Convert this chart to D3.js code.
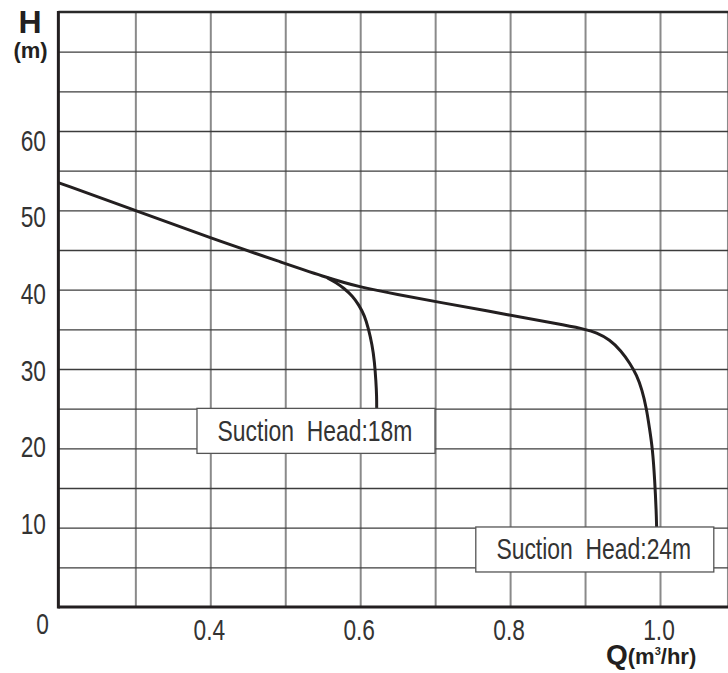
<!DOCTYPE html>
<html>
<head>
<meta charset="utf-8">
<script src="https://cdn.jsdelivr.net/npm/d3@7"></script>
<style>
  html, body { margin: 0; padding: 0; background: #fff; }
  svg { display: block; }
  .narrow { font-family: "Liberation Sans", Arial, sans-serif; }
  .bold { font-family: "Liberation Sans", Arial, sans-serif; font-weight: bold; }
</style>
</head>
<body>
<script>
// ---- data ----
const qGrid = [0.3, 0.4, 0.5, 0.6, 0.7, 0.8, 0.9, 1.0, 1.09];
const hGrid = [5, 10, 15, 20, 25, 30, 35, 40, 45, 50, 55, 60, 65, 70];
const qTickValues = [0.4, 0.6, 0.8, 1.0];
const qTickLabels = ["0.4", "0.6", "0.8", "1.0"];
const hTickValues = [10, 20, 30, 40, 50, 60];
const hTickLabels = ["10", "20", "30", "40", "50", "60"];

// Suction head 24m curve
const q24 = [0.197, 0.3, 0.4, 0.5, 0.556, 0.6, 0.65, 0.7, 0.8, 0.88, 0.9, 0.915, 0.933, 0.948, 0.96, 0.969, 0.976, 0.982, 0.986, 0.99, 0.993, 0.995, 0.9955];
const h24 = [53.5, 50.0, 46.5, 43.3, 41.5, 40.3, 39.4, 38.5, 36.8, 35.4, 35.0, 34.6, 33.7, 32.3, 30.7, 29.2, 27.4, 25.0, 22.5, 20.0, 16.0, 12.0, 10.0];
// Suction head 18m curve (branches off)
const q18 = [0.556, 0.568, 0.578, 0.59, 0.598, 0.606, 0.611, 0.616, 0.619, 0.621, 0.622, 0.622];
const h18 = [41.5, 40.9, 40.2, 39.2, 38.1, 36.7, 35.1, 33.0, 31.0, 28.5, 26.5, 25.0];

const annotLabels = ["Suction  Head:18m", "Suction  Head:24m"];
const annotQ = [0.541, 0.913];
const annotH = [22.2, 7.25];

// ---- drawing ----
const W = 728, Hh = 673;
const svg = d3.select("body").append("svg").attr("width", W).attr("height", Hh);

const x = d3.scaleLinear().domain([0.4, 1.0]).range([210.3, 660]);
const y = d3.scaleLinear().domain([0, 75]).range([607, 12]);
const yLab = d3.scaleLinear().domain([10, 60]).range([523.5, 140]);
const x0 = x(0.1973), xEnd = W;

function narrowText(g, tx, ty, str, anchor, size, sx) {
  return g.append("text").attr("class", "narrow")
    .attr("transform", `translate(${tx},${ty}) scale(${sx},1)`)
    .attr("text-anchor", anchor).attr("font-size", size).attr("fill", "#333")
    .style("white-space", "pre").text(str);
}

// vertical grid
const gx = svg.append("g").attr("transform", `translate(0,${y(0)})`)
  .call(d3.axisBottom(x).tickValues(qGrid).tickSize(-(y(0) - y(75))).tickFormat(""));
gx.select(".domain").remove();
gx.selectAll(".tick line").attr("stroke", "#8a8a8a").attr("stroke-width", 2);

// horizontal grid
const gy = svg.append("g").attr("transform", `translate(${x0},0)`)
  .call(d3.axisLeft(y).tickValues(hGrid).tickSize(-(xEnd - x0)).tickFormat(""));
gy.select(".domain").remove();
gy.selectAll(".tick line").attr("stroke", "#3c3c3c").attr("stroke-width", 1.3);

// curves
const line = d3.line().x(d => x(d[0])).y(d => y(d[1])).curve(d3.curveBasis);
svg.append("path").datum(q24.map((q, i) => [q, h24[i]]))
  .attr("d", line).attr("fill", "none").attr("stroke", "#231f20").attr("stroke-width", 3);
svg.append("path").datum(q18.map((q, i) => [q, h18[i]]))
  .attr("d", line).attr("fill", "none").attr("stroke", "#231f20").attr("stroke-width", 3);

// frame lines
svg.append("line").attr("x1", x0).attr("x2", xEnd).attr("y1", y(75)).attr("y2", y(75))
  .attr("stroke", "#2a2a2a").attr("stroke-width", 2.5);
svg.append("line").attr("x1", x0).attr("x2", xEnd).attr("y1", y(0)).attr("y2", y(0))
  .attr("stroke", "#231f20").attr("stroke-width", 3);
svg.append("line").attr("x1", x0).attr("x2", x0).attr("y1", y(75) - 1).attr("y2", y(0) + 1.5)
  .attr("stroke", "#231f20").attr("stroke-width", 3);

// annotation boxes
const bw = 238, bh = 45;
annotLabels.forEach((t, i) => {
  const cx = x(annotQ[i]), cy = y(annotH[i]);
  svg.append("rect").attr("x", cx - bw / 2).attr("y", cy - bh / 2).attr("width", bw).attr("height", bh)
    .attr("fill", "#fff").attr("stroke", "#555").attr("stroke-width", 1.3);
  narrowText(svg, cx - 1, cy + 10, t, "middle", 29, 0.79);
});

// y tick labels
hTickValues.forEach((v, i) => narrowText(svg, 46, yLab(v) + 10.5, hTickLabels[i], "end", 29.5, 0.77));
narrowText(svg, 42.5, 633.5, "0", "middle", 29.5, 0.77);

// x tick labels
qTickValues.forEach((v, i) => narrowText(svg, x(v) - 1, 639.5, qTickLabels[i], "middle", 29.5, 0.77));

// axis titles
svg.append("text").attr("class", "bold").attr("x", 30).attr("y", 33)
  .attr("text-anchor", "middle").attr("font-size", 32).attr("fill", "#231f20").text("H");
svg.append("text").attr("class", "bold").attr("x", 30.5).attr("y", 58)
  .attr("text-anchor", "middle").attr("font-size", 22).attr("fill", "#231f20").text("(m)");

const qt = svg.append("text").attr("class", "bold").attr("x", 606).attr("y", 664)
  .attr("fill", "#231f20");
qt.append("tspan").attr("font-size", 28).text("Q");
qt.append("tspan").attr("font-size", 22).text("(m");
qt.append("tspan").attr("font-size", 11).attr("dy", -9).text("3");
qt.append("tspan").attr("font-size", 22).attr("dy", 9).text("/hr)");
</script>
</body>
</html>
